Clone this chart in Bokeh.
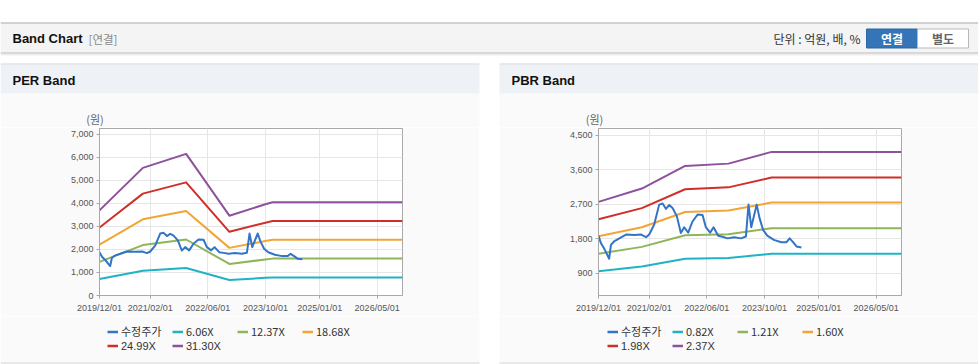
import pandas as pd
from bokeh.plotting import figure
from bokeh.layouts import column, row
from bokeh.models import (Range1d, FixedTicker, DatetimeTickFormatter, NumeralTickFormatter,
                          Legend, LegendItem)
from bokeh.core.properties import value
from bokeh.embed import file_html
from bokeh.resources import INLINE

# ---------------- data ----------------
price_dates = ["2019-12-01", "2019-12-22", "2020-01-20", "2020-02-29", "2020-03-15", "2020-04-14",
               "2020-05-25", "2020-07-20", "2020-09-30", "2020-11-25", "2021-01-05", "2021-02-01",
               "2021-03-15", "2021-04-26", "2021-05-25", "2021-06-22", "2021-07-20", "2021-08-17",
               "2021-09-22", "2021-10-26", "2021-11-23", "2021-12-27", "2022-02-01", "2022-03-16",
               "2022-04-27", "2022-05-25", "2022-06-30", "2022-07-29", "2022-09-06", "2022-10-13",
               "2022-11-24", "2023-01-19", "2023-03-17", "2023-04-28", "2023-05-20", "2023-06-12",
               "2023-07-28", "2023-08-20", "2023-09-20", "2023-10-25", "2023-12-20", "2024-02-20",
               "2024-04-05", "2024-05-01", "2024-05-30", "2024-06-28", "2024-08-08"]
price_values = [1880, 1680, 1530, 1280, 1640, 1740,
                1810, 1910, 1900, 1910, 1840, 1910,
                2170, 2690, 2720, 2580, 2680, 2600,
                2390, 1950, 2100, 1960, 2250, 2430,
                2420, 2100, 1960, 2100, 1880, 1850,
                1810, 1840, 1810, 1860, 2690, 2100,
                2690, 2350, 2030, 1880, 1770, 1710,
                1710, 1810, 1710, 1600, 1570]

per_dates = ["2019-12-01", "2020-12-01", "2021-12-01", "2022-12-01", "2023-10-01", "2023-12-01", "2026-12-01"]
per_6_06 = [716, 1073, 1191, 671, 767, 784, 784]
per_12_37 = [1461, 2189, 2431, 1369, 1565, 1601, 1601]
per_18_68 = [2206, 3306, 3671, 2068, 2363, 2417, 2417]
per_24_99 = [2951, 4423, 4911, 2766, 3161, 3234, 3234]
per_31_30 = [3697, 5540, 6150, 3465, 3960, 4050, 4050]

pbr_dates = ["2019-12-01", "2020-12-01", "2021-12-01", "2022-12-01", "2023-12-01", "2026-12-01"]
pbr_0_82 = [955, 1076, 1280, 1301, 1406, 1406]
pbr_1_21 = [1410, 1588, 1889, 1919, 2075, 2075]
pbr_1_60 = [1864, 2099, 2498, 2538, 2744, 2744]
pbr_1_98 = [2307, 2598, 3091, 3140, 3396, 3396]
pbr_2_37 = [2761, 3109, 3700, 3759, 4065, 4065]

per_labels = ["수정주가", "6.06X", "12.37X", "18.68X", "24.99X", "31.30X"]
pbr_labels = ["수정주가", "0.82X", "1.21X", "1.60X", "1.98X", "2.37X"]
x_tick_dates = ["2019-12-01", "2021-02-01", "2022-06-01", "2023-10-01", "2025-01-01", "2026-05-01"]
x_range_dates = ["2019-12-01", "2026-12-01"]
per_y_ticks = [0, 1000, 2000, 3000, 4000, 5000, 6000, 7000]
per_y_range = [0, 7250]
pbr_y_ticks = [900, 1800, 2700, 3600, 4500]
pbr_y_range = [320, 4675]

series_colors = ["#3374c6", "#1fb3c3", "#8fb55a", "#f2a535", "#d02f29", "#8e519b"]

CJK = "Noto Sans CJK KR"
LAT = "Liberation Sans"
PANEL_BG = "#fafafa"

HEAD_H = 127     # header strip height (page y 0..127)
CHART_H = 189    # chart strip height (page y 127..316)
FOOT_H = 48      # legend strip height (page y 316..364)


# ---------------- helpers ----------------
def blank(width, height, x0, x1, y0, y1, bg="#ffffff"):
    p = figure(width=width, height=height, x_range=Range1d(x0, x1), y_range=Range1d(y1, y0),
               output_backend="svg", toolbar_location=None, min_border=0,
               x_axis_location=None, y_axis_location=None)
    p.grid.visible = False
    p.outline_line_color = None
    p.background_fill_color = bg
    p.border_fill_color = bg
    return p


def txt(p, x, y, s, size, color, font, bold=False, align="left"):
    p.text(x=[x], y=[y], text=[s], text_font=value(font), text_font_size=size,
           text_font_style="bold" if bold else "normal", text_color=color,
           text_baseline="middle", text_align=align)


def band_chart(width, frame_left, frame_right, yr, yticks, dates, bands, price):
    ms = lambda d: pd.Timestamp(d).value / 1e6
    p = figure(width=width, height=CHART_H, x_axis_type="datetime",
               x_range=Range1d(pd.Timestamp(x_range_dates[0]), pd.Timestamp(x_range_dates[1])),
               y_range=Range1d(yr[0], yr[1]),
               output_backend="svg", toolbar_location=None,
               min_border_left=frame_left, min_border_right=width - frame_right,
               min_border_top=1, min_border_bottom=HEAD_H + CHART_H - 295)
    p.background_fill_color = "#ffffff"
    p.border_fill_color = PANEL_BG
    p.outline_line_color = "#a9a9a9"

    p.xaxis.ticker = FixedTicker(ticks=[ms(d) for d in x_tick_dates])
    fmt = "%Y/%m/%d"
    p.xaxis.formatter = DatetimeTickFormatter(microseconds=fmt, milliseconds=fmt, seconds=fmt,
                                              minsec=fmt, minutes=fmt, hourmin=fmt, hours=fmt,
                                              days=fmt, months=fmt, years=fmt)
    p.yaxis.ticker = FixedTicker(ticks=yticks)
    p.yaxis.formatter = NumeralTickFormatter(format="0,0")
    for ax in (p.xaxis[0], p.yaxis[0]):
        ax.axis_line_color = "#a9a9a9"
        ax.major_tick_line_color = "#a9a9a9"
        ax.major_tick_out = 3
        ax.major_tick_in = 0
        ax.minor_tick_line_color = None
        ax.major_label_text_font = LAT
        ax.major_label_text_font_size = "9px"
        ax.major_label_text_color = "#555555"
    p.xaxis.major_label_standoff = 4
    p.yaxis.major_label_standoff = 3
    p.xgrid.grid_line_color = "#e6e6e6"
    p.ygrid.grid_line_color = "#e6e6e6"

    d = pd.to_datetime(dates)
    for vals, col in zip(bands, series_colors[1:]):
        p.line(d, vals, line_color=col, line_width=2, line_join="round")
    p.line(pd.to_datetime(price_dates), price, line_color=series_colors[0], line_width=2,
           line_join="round")
    return p


# ---------------- header strip (top bar + panel headers) ----------------
head = blank(978, HEAD_H, 0, 978, 0, HEAD_H)
head.quad(left=[0], right=[978], top=[22], bottom=[53], fill_color="#f4f4f4", line_color=None)
head.segment(x0=[0], x1=[978], y0=[22.5], y1=[22.5], line_color="#acacac", line_width=1)
head.segment(x0=[0, 0, 0], x1=[978, 978, 978], y0=[52.5, 53.5, 54.5], y1=[52.5, 53.5, 54.5],
             line_color=["#bcbcbc", "#d8d8d8", "#eeeeee"], line_width=1)
txt(head, 12, 38, "Band Chart", "13px", "#111111", LAT, bold=True)
txt(head, 88, 38, "[연결]", "11.5px", "#8a8a8a", CJK)
txt(head, 860, 38, "단위 : 억원, 배, %", "12px", "#333333", CJK, align="right")
head.quad(left=[866], right=[917], top=[28.5], bottom=[47.5], fill_color="#3574b7", line_color="#2e67a5")
head.quad(left=[917], right=[968], top=[28.5], bottom=[47.5], fill_color="#ffffff", line_color="#b8b8b8")
txt(head, 891.5, 38, "연결", "12px", "#ffffff", CJK, bold=True, align="center")
txt(head, 942.5, 38, "별도", "12px", "#666666", CJK, bold=True, align="center")

for x0, x1, title, unit_x in [(0, 479, "PER Band", 94.5), (499, 978, "PBR Band", 594)]:
    head.quad(left=[x0], right=[x1], top=[93], bottom=[HEAD_H], fill_color=PANEL_BG, line_color=None)
    head.quad(left=[x0], right=[x1], top=[64], bottom=[93], fill_color="#eef2f7", line_color=None)
    head.segment(x0=[x0], x1=[x1], y0=[63.5], y1=[63.5], line_color="#d4d4d4", line_width=1)
    txt(head, x0 + 12, 80, title, "13px", "#111111", LAT, bold=True)
    txt(head, unit_x, 118, "(원)", "11px", "#666666", CJK, align="center")

# ---------------- chart strip ----------------
per_bands = [per_6_06, per_12_37, per_18_68, per_24_99, per_31_30]
pbr_bands = [pbr_0_82, pbr_1_21, pbr_1_60, pbr_1_98, pbr_2_37]
per_chart = band_chart(479, 99, 402, per_y_range, per_y_ticks, per_dates, per_bands, price_values)
pbr_chart = band_chart(479, 99, 402, pbr_y_range, pbr_y_ticks, pbr_dates, pbr_bands, price_values)
gap = blank(20, CHART_H, 0, 20, 0, CHART_H)

# ---------------- legend strip ----------------
y_top = HEAD_H + CHART_H
foot = blank(978, FOOT_H, 0, 978, y_top, 364)
for x0, x1 in [(0, 479), (499, 978)]:
    foot.quad(left=[x0], right=[x1], top=[y_top], bottom=[362], fill_color=PANEL_BG, line_color=None)
    foot.segment(x0=[x0], x1=[x1], y0=[362.5], y1=[362.5], line_color="#d4d4d4", line_width=1)


def add_legend(labels, dates, bands, x):
    # legend sample renderers: same series, far outside this strip's ranges (never visible)
    rends = [foot.line(pd.to_datetime(price_dates), price_values, line_color=series_colors[0],
                       line_width=2.5)]
    d = pd.to_datetime(dates)
    for vals, col in zip(bands, series_colors[1:]):
        rends.append(foot.line(d, vals, line_color=col, line_width=2.5))
    items = [LegendItem(label=lab, renderers=[r]) for lab, r in zip(labels, rends)]
    for its, vy, font in [(items[:4], 25, CJK), (items[4:], 12, LAT)]:
        leg = Legend(items=its, location=(x, vy), orientation="horizontal",
                     label_text_font=font, label_text_font_size="11px", label_text_color="#333333",
                     glyph_width=11, glyph_height=13, label_height=13, label_width=51,
                     label_standoff=3, spacing=0, padding=0, margin=0,
                     border_line_color=None, background_fill_alpha=0)
        foot.add_layout(leg)


add_legend(per_labels, per_dates, per_bands, 107)
add_legend(pbr_labels, pbr_dates, pbr_bands, 607)

layout = column(head, row(per_chart, gap, pbr_chart), foot)

open("out.html", "w").write(file_html(layout, INLINE))
